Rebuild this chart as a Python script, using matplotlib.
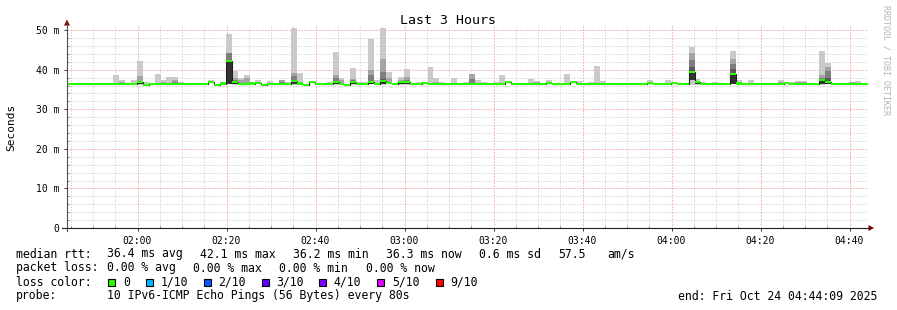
import matplotlib
matplotlib.use("Agg")
import matplotlib.pyplot as plt
import matplotlib.dates as mdates
from matplotlib.lines import Line2D
from matplotlib.patches import Polygon, Rectangle
from matplotlib.ticker import MultipleLocator, FuncFormatter
from datetime import datetime
import numpy as np

plt.rcParams['font.family'] = ['DejaVu Sans Mono']
plt.rcParams['lines.scale_dashes'] = False

# ---------------- data ----------------
title = "Last 3 Hours"
y_label = "Seconds"
watermark = "RRDTOOL / TOBI OETIKER"
range_start = datetime(2025, 10, 24, 1, 44, 9)
range_end = datetime(2025, 10, 24, 4, 44, 9)
first_step = datetime(2025, 10, 24, 1, 43, 50)
step_seconds = 80

# median rtt per 80 s step (ms)
median_ms = [
    36.3, 36.3, 36.3, 36.3, 36.3, 36.3, 36.3, 36.3, 36.3, 36.3, 36.3, 36.3, 36.9, 36.1, 36.3, 36.3, 36.3,
    36.3, 36.3, 36.3, 36.3, 36.3, 36.3, 36.3, 36.9, 36.1, 36.5, 42.1, 36.9, 36.3, 36.3, 36.5, 36.6, 36.1,
    36.4, 36.3, 36.4, 36.3, 37.1, 36.5, 36.1, 36.8, 36.3, 36.3, 36.3, 36.8, 36.4, 36.1, 36.8, 36.4, 36.3,
    36.9, 36.3, 37.1, 36.7, 36.3, 36.9, 36.9, 36.3, 36.3, 36.6, 36.3, 36.3, 36.3, 36.3, 36.3, 36.3, 36.3,
    36.3, 36.3, 36.3, 36.3, 36.3, 36.3, 36.8, 36.3, 36.3, 36.3, 36.3, 36.3, 36.3, 36.6, 36.3, 36.3, 36.3,
    36.8, 36.3, 36.3, 36.3, 36.3, 36.3, 36.3, 36.3, 36.3, 36.3, 36.3, 36.3, 36.3, 36.6, 36.3, 36.3, 36.3,
    36.7, 36.3, 36.3, 39.5, 36.8, 36.3, 36.3, 36.3, 36.3, 36.3, 39.0, 36.5, 36.3, 36.3, 36.3, 36.3, 36.3,
    36.3, 36.3, 36.7, 36.3, 36.3, 36.3, 36.3, 36.3, 37.4, 36.8, 36.3, 36.3, 36.3, 36.3, 36.3, 36.3, 36.3,
]

# highest ping per step (ms)
max_ms = [
    36.7, 36.45, 36.7, 36.6, 36.6, 36.7, 36.45, 36.45, 38.6, 37.4, 36.45, 37.4, 42.2, 36.8, 36.45, 38.9, 37.3,
    38.1, 38.1, 37.0, 36.45, 36.45, 36.7, 36.45, 37.3, 36.25, 36.9, 49.0, 39.7, 37.8, 38.6, 36.65, 37.5, 36.25,
    37.1, 36.7, 37.4, 36.9, 50.5, 39.2, 36.25, 36.9, 36.45, 36.7, 36.9, 44.5, 37.8, 36.25, 40.4, 36.8, 36.8,
    47.8, 37.5, 50.5, 39.5, 36.45, 38.2, 40.2, 36.45, 36.9, 37.0, 40.7, 37.8, 36.8, 36.45, 37.8, 36.45, 36.8,
    38.9, 37.4, 37.0, 36.6, 37.0, 38.6, 36.95, 36.45, 36.45, 36.45, 37.6, 37.2, 36.45, 37.4, 36.7, 36.45, 38.9,
    36.95, 37.2, 36.45, 36.8, 41.0, 37.2, 36.45, 36.7, 36.45, 36.45, 36.45, 36.45, 36.7, 37.4, 36.45, 36.45, 37.5,
    36.85, 36.45, 36.45, 45.8, 37.6, 37.0, 36.45, 36.8, 36.45, 36.45, 44.7, 37.5, 36.6, 37.4, 36.45, 36.45, 36.7,
    36.7, 37.4, 36.85, 36.9, 37.2, 37.2, 36.7, 36.45, 44.7, 41.8, 36.7, 36.45, 36.45, 36.8, 37.2, 36.5, 36.45,
]

# steps with visible inner smoke, and their inner ping levels (ms)
inner_steps = [0, 5, 9, 12, 16, 18, 27, 28, 29, 30, 32, 36, 38, 45, 46, 48, 51, 53, 54, 56,
               57, 62, 68, 79, 82, 97, 105, 106, 112, 113, 118, 119, 120, 123, 124, 127, 128, 129, 132]
inner_q8 = [36.6, 36.7, 36.8, 38.4, 37.0, 37.4, 44.3, 38.0, 37.4, 37.8, 37.0, 37.4, 39.1, 38.6, 37.4, 37.7, 39.9, 42.8, 37.8, 37.4,
            38.2, 37.0, 38.9, 36.9, 36.7, 36.7, 44.1, 37.1, 42.6, 37.0, 36.7, 36.7, 37.0, 36.9, 36.8, 38.6, 40.6, 36.7, 36.8]
inner_q7 = [36.3, 36.6, 36.3, 36.9, 36.3, 37.0, 44.3, 37.4, 36.3, 36.3, 36.6, 37.0, 38.4, 37.8, 36.4, 37.3, 38.6, 39.5, 36.7, 36.9,
            37.4, 36.3, 37.6, 36.3, 36.6, 36.3, 42.5, 36.8, 41.5, 36.5, 36.3, 36.3, 36.3, 36.3, 36.6, 37.9, 39.8, 36.3, 36.3]
inner_q6 = [36.3, 36.3, 36.3, 36.9, 36.3, 36.3, 42.1, 36.9, 36.3, 36.3, 36.6, 36.4, 37.4, 37.2, 36.4, 36.8, 36.9, 37.6, 36.7, 36.9,
            36.9, 36.3, 36.3, 36.3, 36.3, 36.3, 40.8, 36.8, 40.3, 36.5, 36.3, 36.3, 36.3, 36.3, 36.3, 37.5, 37.8, 36.3, 36.3]
inner_low = [36.3, 36.3, 36.3, 36.3, 36.3, 36.3, 36.5, 36.3, 36.3, 36.3, 36.6, 36.4, 36.3, 36.3, 36.4, 36.4, 36.5, 36.4, 36.7, 36.4,
             36.4, 36.3, 36.3, 36.3, 36.3, 36.3, 37.4, 36.3, 36.5, 36.5, 36.3, 36.3, 36.3, 36.3, 36.3, 36.4, 36.5, 36.3, 36.3]
inner_min = [36.1, 36.1, 36.1, 36.2, 36.1, 36.1, 36.3, 36.2, 36.1, 36.1, 36.4, 36.2, 36.2, 36.2, 36.2, 36.2, 36.3, 36.2, 36.5, 36.2,
             36.2, 36.1, 36.1, 36.1, 36.1, 36.1, 36.1, 36.2, 36.3, 36.3, 36.1, 36.1, 36.1, 36.1, 36.1, 36.2, 36.3, 36.1, 36.1]

stats_rows = [
    [("median rtt:", 16), ("36.4 ms avg", 107.3), ("42.1 ms max", 200), ("36.2 ms min", 292.7),
     ("36.3 ms now", 386), ("0.6 ms sd", 479.3), ("57.5", 558.3), ("am/s", 607.3)],
    [("packet loss:", 16), ("0.00 % avg", 107.3), ("0.00 % max", 193.3), ("0.00 % min", 279.3),
     ("0.00 % now", 365.7)],
]
loss_labels = ["0", "1/10", "2/10", "3/10", "4/10", "5/10", "9/10"]
loss_colors = ["#26ff00", "#00b8ff", "#0059ff", "#5e00ff", "#7e00ff", "#dd00ff", "#ff0000"]
probe_text = "10 IPv6-ICMP Echo Pings (56 Bytes) every 80s"
end_text = "end: Fri Oct 24 04:44:09 2025"

# ---------------- figure ----------------
W, H = 897, 310
fig = plt.figure(figsize=(W / 100, H / 100), dpi=100)
fig.patch.set_facecolor("white")


def fx(px):
    return px / W


def fy(py):
    return 1 - py / H


PL, PR, PT, PB = 67, 868, 25, 228
ax = fig.add_axes([fx(PL), fy(PB), (PR - PL) / W, (PB - PT) / H])
ax.set_facecolor("white")
for s in ax.spines.values():
    s.set_visible(False)

med = np.array(median_ms, dtype=float)
mx = np.array(max_ms, dtype=float)
n = len(med)
q8 = med.copy(); q7 = med.copy(); q6 = med.copy(); low = med.copy(); mn = med - 0.2
for k, j in enumerate(inner_steps):
    q8[j] = inner_q8[k]; q7[j] = inner_q7[k]; q6[j] = inner_q6[k]
    low[j] = inner_low[k]; mn[j] = inner_min[k]

t0 = mdates.date2num(first_step)
w = step_seconds / 86400.0
x_left = t0 + np.arange(n) * w


def band(lo, hi, color, z):
    ax.bar(x_left, np.maximum(hi - lo, 0), width=w, bottom=lo, align="edge",
           color=color, linewidth=0, zorder=z)


band(mn, mx, "#cacaca", 2.0)
band(med, q8, "#a4a4a4", 2.1)
band(med, q7, "#7e7e7e", 2.2)
band(med, q6, "#585858", 2.3)
band(low, med, "#323232", 2.4)
ax.stairs(med, np.append(x_left, x_left[-1] + w), baseline=None, color="#202020",
          lw=0.8, zorder=3)
band(med - 0.27, med + 0.28, loss_colors[0], 4)

ax.set_xlim(mdates.date2num(range_start), mdates.date2num(range_end))
ax.set_ylim(0, 51.3)
ax.xaxis.set_major_locator(mdates.MinuteLocator(byminute=[0, 20, 40]))
ax.xaxis.set_minor_locator(mdates.MinuteLocator(byminute=range(0, 60, 5)))
ax.xaxis.set_major_formatter(mdates.DateFormatter("%H:%M"))
ax.yaxis.set_major_locator(MultipleLocator(10))
ax.yaxis.set_minor_locator(MultipleLocator(2))
ax.yaxis.set_major_formatter(FuncFormatter(lambda v, p: "0" if v == 0 else f"{int(round(v))} m"))

ax.set_axisbelow(True)
ax.tick_params(which="major", direction="out", length=2.4, width=0.72, color="#404040",
               labelsize=7, pad=3)
ax.tick_params(which="minor", direction="in", length=1.5, width=0.72, color="#808080")

# dotted grid drawn explicitly
xmin, xmax = ax.get_xlim()
for v in ax.yaxis.get_minorticklocs():
    if abs(v % 10) > 1e-6:
        ax.axhline(v, color="#c4c4c4", lw=0.72, linestyle=(0, (0.72, 1.44)), zorder=0.5)
for v in ax.xaxis.get_minorticklocs():
    ax.axvline(v, color="#c4c4c4", lw=0.72, linestyle=(0, (0.72, 1.44)), zorder=0.5)
for v in ax.yaxis.get_majorticklocs():
    if 0 < v <= 51.3:
        ax.axhline(v, color="#f07a7a", lw=0.72, linestyle=(0, (0.72, 1.44)), zorder=0.6)
for v in ax.xaxis.get_majorticklocs():
    if xmin <= v <= xmax:
        ax.axvline(v, color="#f07a7a", lw=0.72, linestyle=(0, (0.72, 1.44)), zorder=0.6)

# axis lines and arrows
fig.add_artist(Line2D([fx(62), fx(870)], [fy(228), fy(228)], color="#202020", lw=0.8))
fig.add_artist(Line2D([fx(67), fx(67)], [fy(231), fy(22)], color="#505050", lw=0.8))
fig.add_artist(Polygon([(fx(64), fy(25.5)), (fx(70), fy(25.5)), (fx(67), fy(19.5))],
                       closed=True, color="#7f0000", lw=0))
fig.add_artist(Polygon([(fx(868.5), fy(225)), (fx(868.5), fy(231)), (fx(874), fy(228))],
                       closed=True, color="#7f0000", lw=0))

# texts
fig.text(fx(448), fy(23.5), title, ha="center", va="baseline", fontsize=9.5)
fig.text(fx(11), fy(127), y_label, rotation=90, ha="center", va="center", fontsize=8)
fig.text(fx(886), fy(60), watermark, rotation=270, ha="center", va="center",
         fontsize=6, color="#b4b4b4")

FS = 8.3
row_base = [257.5, 271.5, 285.5, 299.5]
for r, row in enumerate(stats_rows):
    for txt, xpos in row:
        fig.text(fx(xpos), fy(row_base[r]), txt, ha="left", va="baseline", fontsize=FS)

fig.text(fx(16), fy(row_base[2]), "loss color:", ha="left", va="baseline", fontsize=FS)
box_x = [108.3, 145.7, 204, 261.7, 319.3, 377.3, 436]
for bx, lab, col in zip(box_x, loss_labels, loss_colors):
    fig.add_artist(Rectangle((fx(bx), fy(285.5)), 7 / W, 7 / H, facecolor=col,
                             edgecolor="black", lw=0.8, transform=fig.transFigure))
    fig.text(fx(bx + 14.5), fy(row_base[2]), lab, ha="left", va="baseline", fontsize=FS)

fig.text(fx(16), fy(row_base[3]), "probe:", ha="left", va="baseline", fontsize=FS)
fig.text(fx(107.3), fy(row_base[3]), probe_text, ha="left", va="baseline", fontsize=FS)
fig.text(fx(678.3), fy(row_base[3]), end_text, ha="left", va="baseline", fontsize=FS)

fig.savefig("out.png", dpi=100, facecolor="white")
